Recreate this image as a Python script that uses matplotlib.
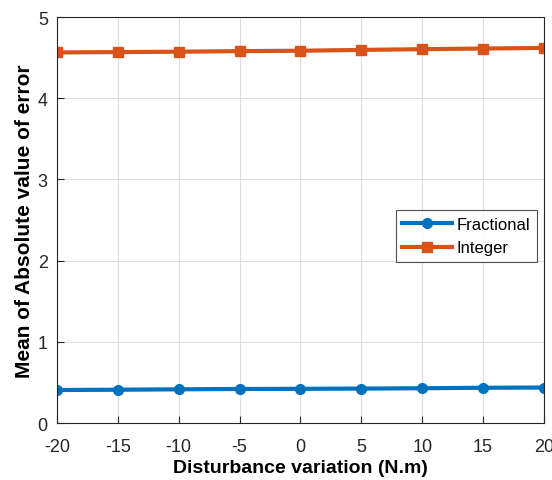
import matplotlib
matplotlib.use('Agg')
import matplotlib.pyplot as plt

plt.rcParams['font.family'] = ['Liberation Sans', 'DejaVu Sans']
plt.rcParams['axes.unicode_minus'] = False

disturbance = [-20, -15, -10, -5, 0, 5, 10, 15, 20]
fractional = [0.406, 0.410, 0.415, 0.419, 0.421, 0.424, 0.428, 0.434, 0.437]
integer = [4.564, 4.568, 4.573, 4.580, 4.585, 4.595, 4.604, 4.612, 4.620]

fig = plt.figure(figsize=(5.52, 4.81), dpi=100)
ax = fig.add_axes([0.103, 0.1185, 0.8825, 0.844])

ax.plot(disturbance, fractional, color='#0072BD', lw=3, marker='o', ms=7, label='Fractional')
ax.plot(disturbance, integer, color='#D95319', lw=3, marker='s', ms=7, label='Integer')

ax.set_xlim(-20, 20)
ax.set_ylim(0, 5)
ax.set_xticks(disturbance)
ax.set_yticks([0, 1, 2, 3, 4, 5])
ax.grid(True, color='#dddddd', lw=0.8)
ax.set_axisbelow(True)
ax.tick_params(labelsize=13, direction='in', length=5, colors='#262626')
ax.tick_params(axis='x', pad=11)
ax.tick_params(axis='y', pad=6.5)
for s in ax.spines.values():
    s.set_color('#262626')

ax.set_xlabel('Disturbance variation (N.m)', fontsize=14, fontweight='bold', labelpad=3)
ax.set_ylabel('Mean of Absolute value of error', fontsize=15, fontweight='bold', labelpad=3)

leg = ax.legend(loc='center right', bbox_to_anchor=(0.985, 0.46), fontsize=12,
                fancybox=False, edgecolor='#262626', handlelength=3.0,
                borderpad=0.4, labelspacing=0.5, handletextpad=0.25, borderaxespad=0)
leg.get_frame().set_linewidth(0.8)

fig.savefig('out.png', dpi=100)
